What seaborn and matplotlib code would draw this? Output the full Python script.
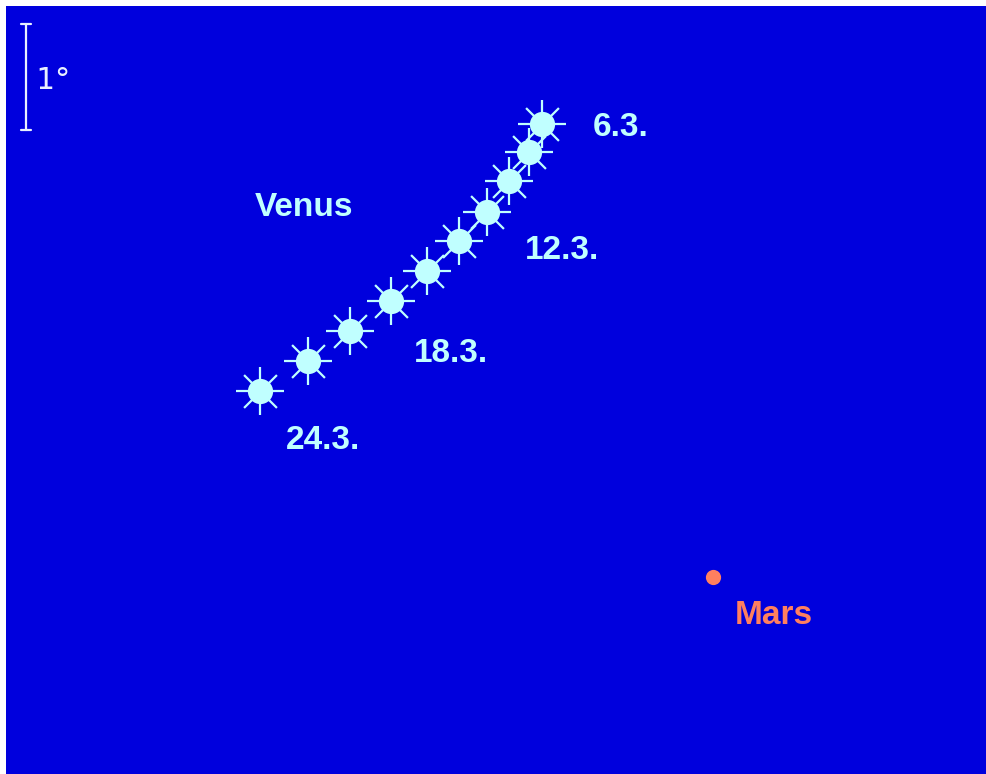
import matplotlib
matplotlib.use("Agg")
import matplotlib.pyplot as plt
import seaborn as sns
import pandas as pd

# Venus positions every second day in March (degrees, arbitrary origin)
venus_dates = ["6.3.", "8.3.", "10.3.", "12.3.", "14.3.", "16.3.", "18.3.", "20.3.", "22.3.", "24.3."]
venus_x = [5.06, 4.93, 4.75, 4.54, 4.27, 3.97, 3.63, 3.25, 2.85, 2.40]
venus_y = [6.13, 5.87, 5.59, 5.30, 5.03, 4.75, 4.46, 4.18, 3.90, 3.61]
labelled = ["6.3.", "12.3.", "18.3.", "24.3."]

mars_x = [6.67]
mars_y = [1.86]

BG = "#0000DD"
VENUS_COL = "#C0FFFF"
MARS_COL = "#FF7F5F"

sns.set_theme(style="white")
plt.rcParams["font.family"] = ["Liberation Sans", "DejaVu Sans"]

venus = pd.DataFrame({"x": venus_x, "y": venus_y, "date": venus_dates})
mars = pd.DataFrame({"x": mars_x, "y": mars_y})

fig = plt.figure(figsize=(9.86, 7.74), dpi=100)
fig.patch.set_facecolor("white")
ax = fig.add_axes([6 / 986, 0, 980 / 986, 768 / 774])
ax.set_facecolor(BG)
ax.set_xlim(0, 980 / 106)
ax.set_ylim(0, 768 / 106)
ax.set_xticks([])
ax.set_yticks([])
for s in ax.spines.values():
    s.set_visible(False)

# rays, then the disc on top
sns.scatterplot(data=venus, x="x", y="y", marker="+", s=1200, color=VENUS_COL,
                linewidth=1.6, ax=ax, legend=False, zorder=2)
sns.scatterplot(data=venus, x="x", y="y", marker="x", s=560, color=VENUS_COL,
                linewidth=1.6, ax=ax, legend=False, zorder=2)
sns.scatterplot(data=venus, x="x", y="y", marker="o", s=330, color=VENUS_COL,
                linewidth=0, ax=ax, legend=False, zorder=3)
sns.scatterplot(data=mars, x="x", y="y", marker="o", s=120, color=MARS_COL,
                linewidth=0, ax=ax, legend=False, zorder=3)

# date labels, offset in pixels from the point
offsets = {"6.3.": (50, -3), "12.3.": (38, -38), "18.3.": (23, -52), "24.3.": (25, -49)}
for _, r in venus.iterrows():
    if r["date"] in labelled:
        dx, dy = offsets[r["date"]]
        ax.annotate(r["date"], (r["x"], r["y"]), xytext=(dx * 0.72, dy * 0.72),
                    textcoords="offset points", ha="left", va="center",
                    fontsize=24, fontweight="bold", color=VENUS_COL)

ax.text(249 / 106, 566 / 106, "Venus", ha="left", va="center",
        fontsize=24, fontweight="bold", color=VENUS_COL)
ax.annotate("Mars", (mars_x[0], mars_y[0]), xytext=(22 * 0.72, -39 * 0.72),
            textcoords="offset points", ha="left", va="center",
            fontsize=24, fontweight="bold", color=MARS_COL)

# 1 degree scale bar
bar_x = 20 / 106
bar_top = 750 / 106
ax.plot([bar_x, bar_x], [bar_top - 1, bar_top], color="#E8F0FF", lw=1.6)
for yy in (bar_top - 1, bar_top):
    ax.plot([bar_x - 0.045, bar_x + 0.045], [yy, yy], color="#E8F0FF", lw=1.6)
ax.text(bar_x + 0.09, bar_top - 0.5 - 0.03, "1°", ha="left", va="center",
        fontsize=22, color="#E8F0FF", family="DejaVu Sans Mono")

fig.savefig("out.png", dpi=100, facecolor=fig.get_facecolor())
